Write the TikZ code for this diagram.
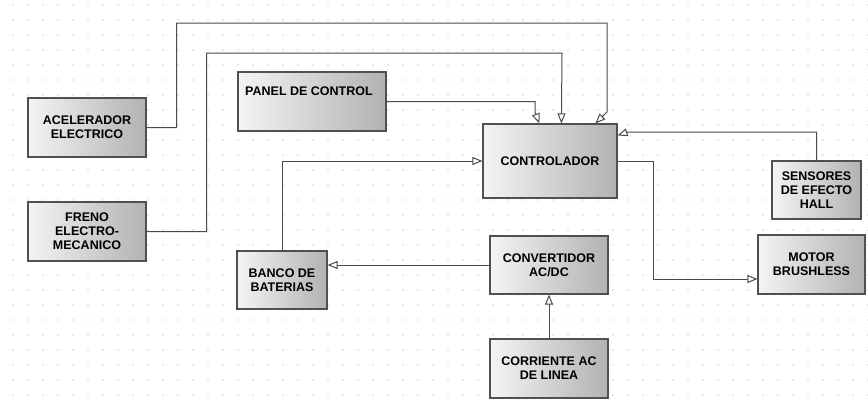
\documentclass[tikz,border=0pt]{standalone}
\usepackage{fontspec}
\setmainfont{Liberation Sans}
\usepackage{tikz}
\usetikzlibrary{positioning,arrows.meta}
\definecolor{linegray}{HTML}{4A4A4A}
\definecolor{boxedge}{HTML}{505050}
\definecolor{boxlight}{HTML}{F4F4F4}
\definecolor{boxdark}{HTML}{B2B2B2}
\definecolor{dotgray}{HTML}{A0A0A0}
\tikzset{
  flowarrow/.style={-{Triangle[length=10pt, width=8pt, fill=white]}, line width=1pt, draw=linegray},
  block/.style={draw=boxedge, line width=1.2pt, left color=boxlight, right color=boxdark, align=center, font=\fontsize{12.5}{14}\selectfont\bfseries},
  blocklabel/.style={inner sep=0pt, font=\fontsize{12.5}{14}\selectfont\bfseries}
}
\begin{document}
\begin{tikzpicture}[x=1pt, y=-1pt]
      \fill[white] (0,0) rectangle (868,408);
      \useasboundingbox (0,0) rectangle (868,408);
      % dotted grid
      \foreach \i in {0,...,57}
        \foreach \j in {0,...,26}
          \fill[dotgray] ({13+15*\i},{5+15*\j}) circle (0.6pt);
      % blocks
      \node[block, minimum width=118pt, minimum height=59pt] (acel) at (87,127.5) {ACELERADOR\\ELECTRICO};
      \node[block, minimum width=118pt, minimum height=59pt] (freno) at (87,231.5) {FRENO\\ELECTRO-\\MECANICO};
      \node[block, minimum width=148pt, minimum height=59pt] (panel) at (312,101.5) {};
      \node[blocklabel, anchor=base west] (panellbl) at (245,95) {PANEL DE CONTROL};
      \node[block, minimum width=134pt, minimum height=74pt] (ctrl) at (550,161) {CONTROLADOR};
      \node[block, minimum width=89pt, minimum height=58pt] (sens) at (816.5,190) {SENSORES\\DE EFECTO\\HALL};
      \node[block, minimum width=107pt, minimum height=59pt] (motor) at (811.5,264.5) {MOTOR\\BRUSHLESS};
      \node[block, minimum width=90pt, minimum height=58pt] (banco) at (282,280) {BANCO DE\\BATERIAS};
      \node[block, minimum width=118pt, minimum height=58pt] (conv) at (549,265) {CONVERTIDOR\\AC/DC};
      \node[block, minimum width=118pt, minimum height=59pt] (corr) at (549,368.5) {CORRIENTE AC\\DE LINEA};
      % connectors
      \draw[flowarrow] (acel.east) -- ++(30,0) |- (607,23) -- (607,112) -- ([xshift=113pt]ctrl.north west);
      \draw[flowarrow] (freno.east) -- ++(60,0) |- (562,53) -- ([xshift=79pt]ctrl.north west);
      \draw[flowarrow] (panel.east) -- (535,101.5) -- (535,112) -- ([xshift=57pt]ctrl.north west);
      \draw[flowarrow] (banco.north) |- (ctrl.west);
      \draw[flowarrow] (sens.north) |- (628,132) -- ([yshift=-12pt]ctrl.north east);
      \draw[flowarrow] (ctrl.east) -- ++(36,0) |- ([yshift=-14.5pt]motor.west);
      \draw[flowarrow] (conv.west) -- (conv.west -| banco.east);
      \draw[flowarrow] (corr.north) -- (conv.south);
    \end{tikzpicture}
\end{document}
